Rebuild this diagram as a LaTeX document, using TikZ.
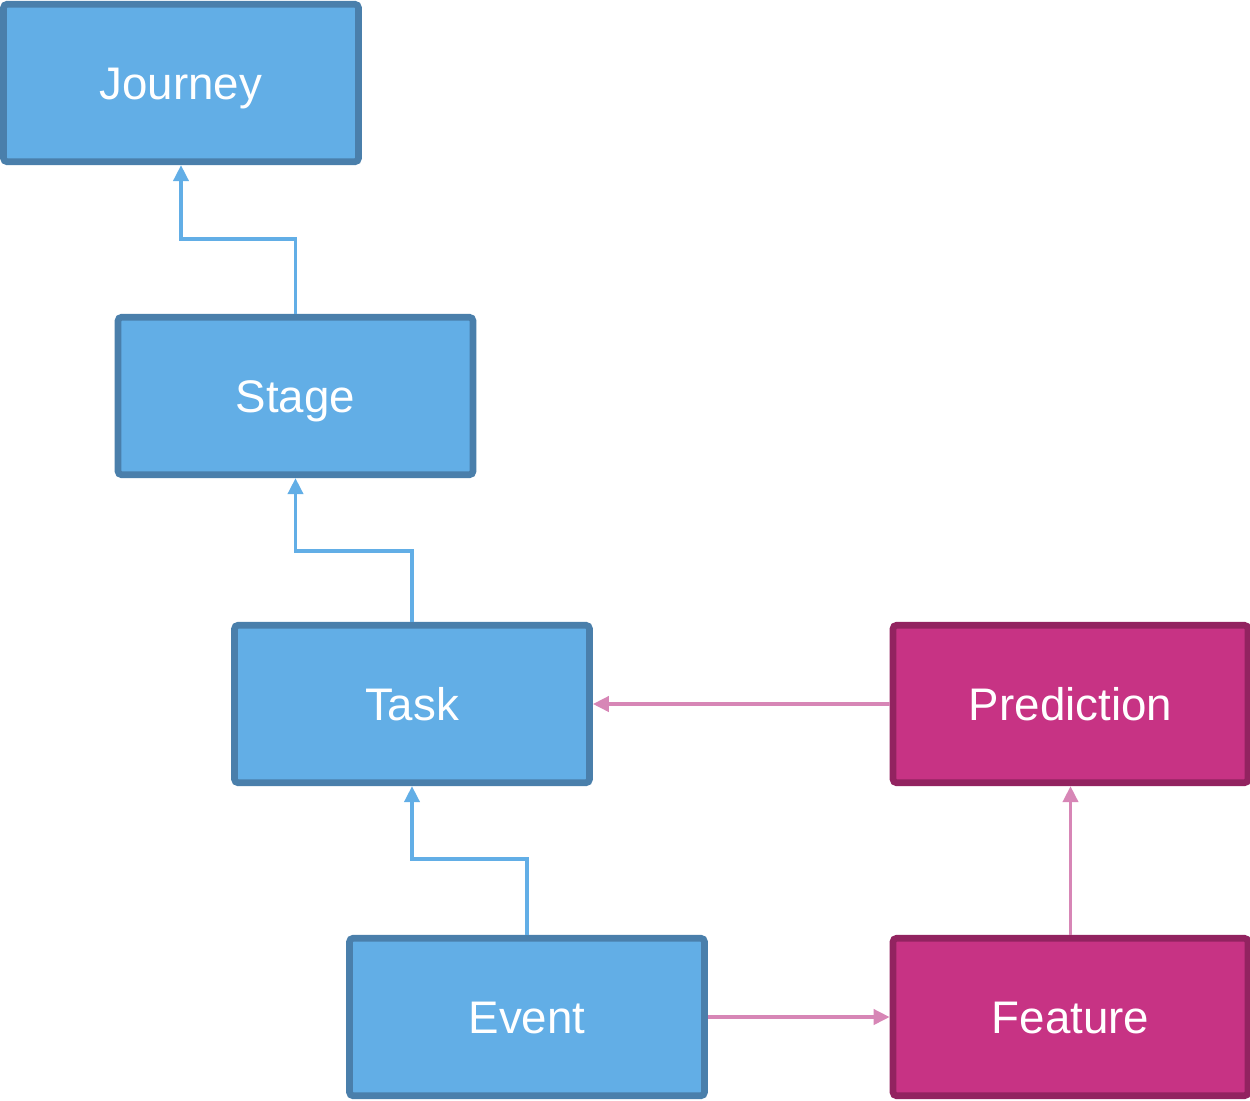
\documentclass[tikz,border=0pt]{standalone}
\usepackage{fontspec}
\setmainfont{Liberation Sans}
\usepackage{xcolor}
\usetikzlibrary{positioning,calc,arrows.meta}

\definecolor{bluefill}{HTML}{62AEE6}
\definecolor{blueedge}{HTML}{4A7FAB}
\definecolor{pinkfill}{HTML}{C73384}
\definecolor{pinkedge}{HTML}{922360}
\definecolor{pinkline}{HTML}{D786B6}

\tikzset{
    entity/.style={rectangle, rounded corners=2pt, line width=3.8pt, minimum width=7.1cm, minimum height=3.15cm,
        text=white, font=\fontsize{26}{30}\selectfont, text height=18.7pt, text depth=0pt},
    bluebox/.style={entity, draw=blueedge, fill=bluefill},
    pinkbox/.style={entity, draw=pinkedge, fill=pinkfill},
    bluelink/.style={draw=bluefill, line width=2.1pt, -{Triangle[length=0.32cm,width=0.3cm]}},
    pinklink/.style={draw=pinkline, line width=2.1pt, -{Triangle[length=0.32cm,width=0.3cm]}}
}

\begin{document}
\begin{tikzpicture}[x=0.02cm, y=-0.02cm]
    \useasboundingbox (0,0) rectangle (1250,1100);

    % Hierarchy
    \node [bluebox] (journey) at (181,83) {Journey};
    \node [bluebox] (stage) at (295.5,396) {Stage};
    \node [bluebox] (task) at (412,704) {Task};
    \node [bluebox] (event) at (527,1017) {Event};

    % Model side
    \node [pinkbox] (prediction) at (1070.5,704) {Prediction};
    \node [pinkbox] (feature) at (1070.5,1017) {Feature};

    % Links
    \draw [bluelink] (stage.north) -- ++(0,-75) -| (journey.south);
    \draw [bluelink] (task.north) -- ++(0,-71) -| (stage.south);
    \draw [bluelink] (event.north) -- ++(0,-76) -| (task.south);
    \draw [pinklink] (prediction.west) -- (task.east);
    \draw [pinklink] (event.east) -- (feature.west);
    \draw [pinklink] (feature.north) -- (prediction.south);
\end{tikzpicture}
\end{document}
